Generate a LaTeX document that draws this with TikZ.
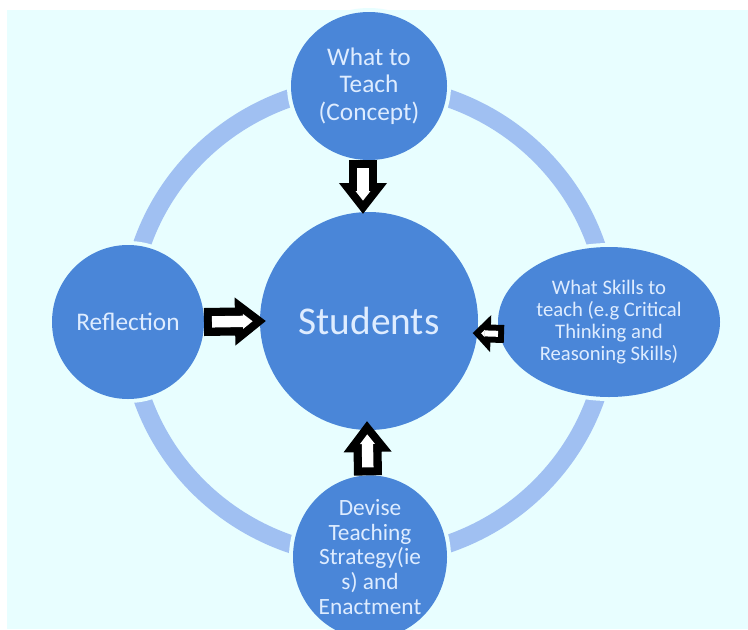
\documentclass[tikz,border=0pt]{standalone}
\usepackage{fontspec}
\setmainfont{Carlito}
\usepackage{tikz}
\usetikzlibrary{arrows.meta,shapes.geometric}
\definecolor{bgcyan}{RGB}{232,254,255}
\definecolor{bubble}{RGB}{74,134,216}
\definecolor{bubtxt}{RGB}{222,236,255}
\definecolor{ringblue}{RGB}{160,192,242}
\tikzset{
  bub/.style={fill=bubble,text=bubtxt,align=center,inner sep=0pt,outer sep=0pt,
    preaction={draw=bgcyan,line width=6pt}},   % thin gap round each bubble
  ringln/.style={draw=ringblue,line width=13.5pt},
  % hollow block arrows: black body, white core on top
  bigarr/.style={white,line width=8.5pt,shorten <=6pt,shorten >=10pt,
    -{Triangle[length=7.2pt,width=10.7pt]},
    preaction={draw=black,line width=21pt,shorten <=0pt,shorten >=0pt,
      -{Triangle[length=23.25pt,width=34.5pt]}}},
  smallarr/.style={white,line width=4.5pt,shorten <=4.5pt,shorten >=6.4pt,
    -{Triangle[length=2.6pt,width=5.3pt]},
    preaction={draw=black,line width=13.5pt,shorten <=0pt,shorten >=0pt,
      -{Triangle[length=13.5pt,width=27pt]}}},
}
\begin{document}
\begin{tikzpicture}[x=0.75pt,y=-0.75pt]
  \useasboundingbox (0,0) rectangle (748,629);
  \fill[white] (0,0) rectangle (748,629);
  \fill[bgcyan] (7,10) rectangle (748,629);
  % centre bubble and the ring through the outer ones
  \node[bub,circle,minimum size=163.5pt,font=\fontsize{29.5}{32}\selectfont] (stud) at (369,321) {Students};
  \draw[ringln] (stud.center) ellipse [x radius=240,y radius=236];
  \node[bub,ellipse,minimum width=117pt,minimum height=111pt,font=\fontsize{19}{20.6}\selectfont]
    (what) at (369,86) {What to\\Teach\\(Concept)};
  \node[bub,ellipse,minimum width=166.5pt,minimum height=112.5pt,font=\fontsize{15.5}{16.3}\selectfont]
    (skills) at (609,322) {What Skills to\\teach (e.g Critical\\Thinking and\\Reasoning Skills)};
  \node[bub,ellipse,minimum width=115.5pt,minimum height=109.5pt,font=\fontsize{17.5}{18.6}\selectfont]
    (devise) at (370,557) {Devise\\Teaching\\Strategy(ie\\s) and\\Enactment};
  \node[bub,ellipse,minimum width=114pt,minimum height=115.5pt,font=\fontsize{19}{20}\selectfont]
    (refl) at (128,322) {Reflection};
  % arrows into the centre
  \draw[bigarr] ([xshift=-4.5pt]what.south) -- ([xshift=-4.5pt,yshift=-1.5pt]stud.north);
  \draw[bigarr] (refl.east) -- ([xshift=4.5pt]stud.west);
  \draw[bigarr] ([xshift=-1.5pt]devise.north) -- ([xshift=-1.5pt,yshift=6.75pt]stud.south);
  \draw[smallarr] ([xshift=4.5pt,yshift=-9pt]skills.west) -- ([xshift=-4pt,yshift=-9pt]stud.east);
\end{tikzpicture}
\end{document}
